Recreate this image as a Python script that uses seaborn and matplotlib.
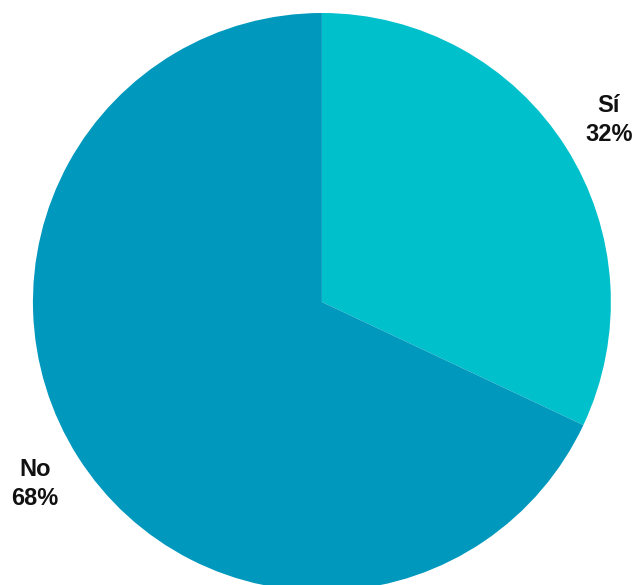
import matplotlib
matplotlib.use("Agg")
import matplotlib.pyplot as plt
import seaborn as sns

categories = ["Sí", "No"]
shares = [32, 68]
colors = ["#00C1CB", "#0098BC"]

sns.set_style("white")
plt.rcParams["font.family"] = ["Liberation Sans", "DejaVu Sans"]

fig = plt.figure(figsize=(6.36, 5.85), dpi=100)
ax = fig.add_axes([0, 0, 1, 1])

labels = [f"{c}\n{v}%" for c, v in zip(categories, shares)]
wedges, texts = ax.pie(
    shares,
    labels=labels,
    colors=colors,
    startangle=90,
    counterclock=False,
    labeldistance=1.176,
    wedgeprops=dict(linewidth=0),
    textprops=dict(fontsize=17, fontweight="bold", color="#111111", linespacing=1.35),
)
for t in texts:
    t.set_horizontalalignment("center")
    t.set_verticalalignment("center")

ax.set_xlim(-1.114, 1.087)
ax.set_ylim(-0.979, 1.045)
ax.set_aspect("auto")
ax.axis("off")

fig.savefig("out.png", dpi=100)
